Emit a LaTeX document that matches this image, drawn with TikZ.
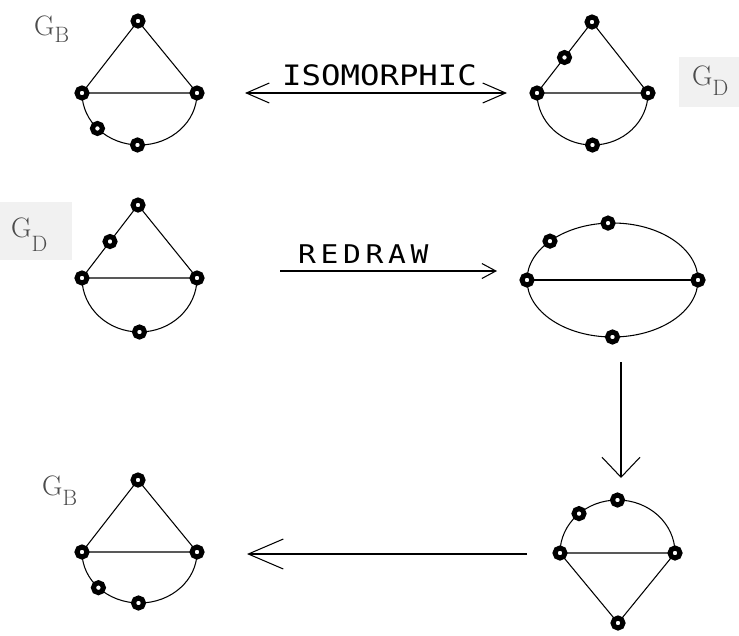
\documentclass[tikz,border=0pt]{standalone}
\usepackage{fontspec}
\usetikzlibrary{arrows.meta, calc, backgrounds}
\newfontfamily\plotterfont[FakeStretch=1.15]{DejaVu Sans Mono}
\definecolor{LabelGray}{HTML}{4C4C4C}
\definecolor{BoxGray}{HTML}{F1F1F1}
\tikzset{
  vtx/.style={circle, draw=black, line width=1.5mm, fill=white, inner sep=0pt, minimum size=3mm},
  edge/.style={line width=0.9pt, draw=black},
  glabel/.style={text=LabelGray, anchor=base west, inner sep=0pt, font=\fontsize{24}{24}\selectfont},
  caption/.style={anchor=base west, inner sep=0pt, font=\plotterfont\fontsize{24}{24}\selectfont},
  isoarrow/.style={{Straight Barb[length=6.9mm, width=6mm]}-{Straight Barb[length=6.9mm, width=6mm]}, line width=0.9pt},
  redrawarrow/.style={-{Straight Barb[length=4.2mm, width=4.5mm]}, line width=0.9pt},
  downarrow/.style={-{Straight Barb[length=6mm, width=11.4mm]}, line width=0.9pt},
  backarrow/.style={-{Straight Barb[length=10.5mm, width=9mm]}, line width=0.9pt}
}
\newcommand{\subdrop}[2]{\raisebox{-#1}{\fontsize{19}{19}\selectfont #2}}

\begin{document}
\begin{tikzpicture}[x=0.3mm, y=-0.3mm]
\useasboundingbox (0,0) rectangle (739,635);

% G_B, top left
\node[vtx] (b1t) at (138,21) {};
\node[vtx] (b1l) at (82,93) {};
\node[vtx] (b1r) at (197,93) {};
\node[vtx] (b1s) at ($(139.5,93)+(137:57.5 and 52)$) {};
\node[vtx] (b1b) at ($(139.5,93)+(92:57.5 and 52)$) {};
\node[glabel] (lb1) at (34,35) {G\subdrop{2.1mm}{B}};

% G_D, top right
\node[vtx] (d1t) at (592,22) {};
\node[vtx] (d1l) at (537,93) {};
\node[vtx] (d1r) at (648,93) {};
\node[vtx] (d1s) at ($(d1t)!0.5!(d1l)$) {};
\node[vtx] (d1b) at ($(592.5,93)+(90:55.5 and 52)$) {};
\fill[BoxGray] (679,57) rectangle (739,107);
\node[glabel] (ld1) at (692,85) {G\subdrop{3mm}{D}};

% G_D, middle left
\node[vtx] (d2t) at (138,205) {};
\node[vtx] (d2l) at (82,278) {};
\node[vtx] (d2r) at (197,278) {};
\node[vtx] (d2s) at ($(d2t)!0.5!(d2l)$) {};
\node[vtx] (d2b) at ($(139.5,278)+(90:57.5 and 54)$) {};
\fill[BoxGray] (0,202) rectangle (72,260);
\node[glabel] (ld2) at (11,237) {G\subdrop{4.2mm}{D}};

% redrawn as an ellipse
\coordinate (ec) at (612.5,280);
\node[vtx] (e1l) at ($(ec)+(180:85.5 and 57)$) {};
\node[vtx] (e1r) at ($(ec)+(0:85.5 and 57)$) {};
\node[vtx] (e1t) at ($(ec)+(267:85.5 and 57)$) {};
\node[vtx] (e1s) at ($(ec)+(223:85.5 and 57)$) {};
\node[vtx] (e1b) at ($(ec)+(90:85.5 and 57)$) {};

% turned upside down
\node[vtx] (u1l) at (560,553) {};
\node[vtx] (u1r) at (675,553) {};
\node[vtx] (u1t) at ($(617.5,553)+(270:57.5 and 53)$) {};
\node[vtx] (u1s) at ($(617.5,553)+(228:57.5 and 53)$) {};
\node[vtx] (u1b) at (618,623) {};

% G_B, bottom left
\node[vtx] (b2t) at (138,480) {};
\node[vtx] (b2l) at (82,552) {};
\node[vtx] (b2r) at (197,552) {};
\node[vtx] (b2s) at ($(139.5,552)+(135.6:57.5 and 51)$) {};
\node[vtx] (b2b) at ($(139.5,552)+(91:57.5 and 51)$) {};
\node[glabel] (lb2) at (42,495) {G\subdrop{3mm}{B}};

\begin{scope}[on background layer]
  \draw[edge] (b1t.center) -- (b1l.center) -- (b1r.center) -- cycle;
  \draw[edge] (b1l.center) arc[start angle=180, end angle=0, x radius=57.5, y radius=52];

  \draw[edge] (d1t.center) -- (d1s.center) -- (d1l.center) -- (d1r.center) -- cycle;
  \draw[edge] (d1l.center) arc[start angle=180, end angle=0, x radius=55.5, y radius=52];

  \draw[edge] (d2t.center) -- (d2s.center) -- (d2l.center) -- (d2r.center) -- cycle;
  \draw[edge] (d2l.center) arc[start angle=180, end angle=0, x radius=57.5, y radius=54];

  \draw[edge] (ec) ellipse[x radius=85.5, y radius=57];
  \draw[edge] (e1l.center) -- (e1r.center);

  \draw[edge] (u1l.center) arc[start angle=180, end angle=360, x radius=57.5, y radius=53];
  \draw[edge] (u1l.center) -- (u1r.center) -- (u1b.center) -- cycle;

  \draw[edge] (b2t.center) -- (b2l.center) -- (b2r.center) -- cycle;
  \draw[edge] (b2l.center) arc[start angle=180, end angle=0, x radius=57.5, y radius=51];
\end{scope}

% arrows between the drawings
\coordinate (isoL) at (245,93);
\coordinate (isoR) at (507,93);
\draw[isoarrow] (isoL) -- (isoR);
\node[caption] (iso) at (282,85) {ISOMORPHIC};

\coordinate (rdL) at (280,271);
\coordinate (rdR) at (497,271);
\draw[redrawarrow] (rdL) -- (rdR);
\node[caption, font=\plotterfont\fontsize{22}{22}\selectfont] (rd) at (298,263) {\addfontfeatures{LetterSpace=18}REDRAW};

\coordinate (dnT) at (621,362);
\coordinate (dnB) at (621,478);
\draw[downarrow] (dnT) -- (dnB);

\coordinate (bkR) at (527,554);
\coordinate (bkL) at (247,554);
\draw[backarrow] (bkR) -- (bkL);
\end{tikzpicture}
\end{document}
